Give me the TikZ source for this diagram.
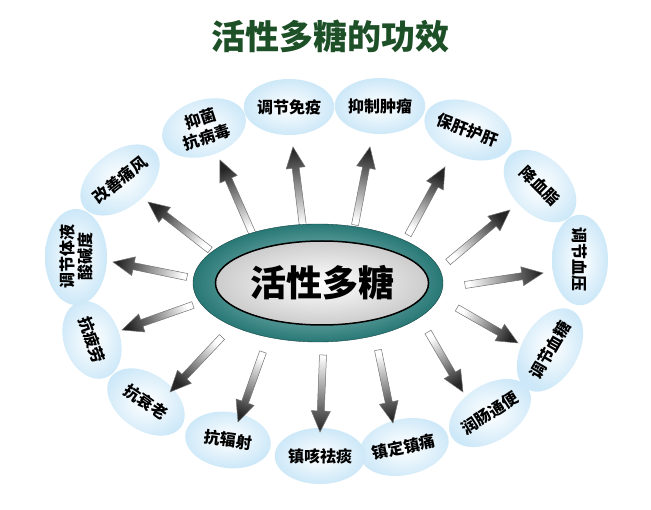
\documentclass[tikz,border=0pt]{standalone}
\usepackage{fontspec}
\setmainfont{Noto Sans CJK SC}
\usetikzlibrary{shapes.geometric,calc}
\definecolor{titlegreen}{RGB}{30,80,40}
\definecolor{bub}{RGB}{205,232,248}
\definecolor{teal1}{RGB}{40,120,118}
\tikzset{
 bubble/.style={ellipse, inner color=white, outer color=bub, minimum width=86pt, minimum height=56pt, font=\bfseries\fontsize{16}{17}\selectfont, align=center, inner sep=0pt},
 arrowsty/.style={top color=black!85, bottom color=white, draw=black!55, line width=0.5pt}
}
\newcommand\farrow[3]{%
 \coordinate (#1s) at #2; \coordinate (#1t) at #3;
 \coordinate (#1b) at ($(#1t)!21pt!(#1s)$);
 \path let \p1=($(#1t)-(#1s)$), \n1={atan2(\y1,\x1)} in \pgfextra{\pgfmathsetmacro\farang{\n1-90}\global\let\farang\farang};
 \shade[arrowsty, shading angle=\farang] ($(#1s)!3.5pt!90:(#1t)$) -- ($(#1b)!3.5pt!-90:(#1s)$) -- ($(#1b)!9.5pt!-90:(#1s)$) -- (#1t) -- ($(#1b)!9.5pt!90:(#1s)$) -- ($(#1b)!3.5pt!90:(#1s)$) -- ($(#1s)!3.5pt!-90:(#1t)$) -- cycle;}
\begin{document}
\begin{tikzpicture}[x=1pt,y=-1pt]
\useasboundingbox[fill=white] (0,0) rectangle (651,510);
\node[font=\bfseries\fontsize{34}{36}\selectfont, text=titlegreen] (title) at (330,36) {活性多糖的功效};
% bubbles
\node[bubble] (b1) at (289,107) {调节免疫};
\node[bubble] (b2) at (380,106) {抑制肿瘤};
\node[bubble, rotate=-20] (b3) at (468,130) {保肝护肝};
\node[bubble, rotate=-45] (b4) at (540,186) {降血脂};
\node[bubble, rotate=-90] (b5) at (580,260) {调节血压};
\node[bubble, rotate=60] (b6) at (550,350) {调节血糖};
\node[bubble, rotate=33] (b7) at (490,413) {润肠通便};
\node[bubble, rotate=12] (b8) at (404,447) {镇定镇痛};
\node[bubble] (b9) at (320,456) {镇咳祛痰};
\node[bubble, rotate=-8] (b10) at (228,440) {抗辐射};
\node[bubble, rotate=-35] (b11) at (146,402) {抗衰老};
\node[bubble, rotate=-70, minimum width=80pt] (b12) at (92,340) {抗疲劳};
\node[bubble, rotate=90, minimum width=96pt, minimum height=62pt, font=\bfseries\fontsize{16}{18}\selectfont] (b13) at (76,257) {调节体液\\酸碱度};
\node[bubble, rotate=38] (b14) at (120,180) {改善痛风};
\node[bubble, rotate=18, font=\bfseries\fontsize{16}{19}\selectfont] (b15) at (204,128) {抑菌\\抗病毒};
% arrows
\farrow{a1}{(303,227)}{(293,147)}
\farrow{a2}{(355,225)}{(370,147)}
\farrow{a3}{(408,235)}{(445,167)}
\farrow{a4}{(448,262)}{(510,210)}
\farrow{a5}{(465,285)}{(543,273)}
\farrow{a6}{(457,308)}{(518,343)}
\farrow{a7}{(428,332)}{(463,392)}
\farrow{a8}{(378,350)}{(393,423)}
\farrow{a9}{(323,355)}{(320,432)}
\farrow{a10}{(263,352)}{(238,422)}
\farrow{a11}{(222,337)}{(170,392)}
\farrow{a12}{(193,305)}{(122,330)}
\farrow{a13}{(187,277)}{(113,262)}
\farrow{a14}{(210,250)}{(148,202)}
\farrow{a15}{(253,235)}{(220,160)}
% centre
\node[ellipse, minimum width=250pt, minimum height=118pt, inner color=teal!30, outer color=teal1, draw=teal1!60!black] (c0) at (318,283) {};
\node[ellipse, minimum width=190pt, minimum height=84pt, inner color=white, outer color=black!20, draw=black, line width=1.5pt, font=\bfseries\fontsize{36}{38}\selectfont] (c) at (322,283) {活性多糖};
\end{tikzpicture}
\end{document}
